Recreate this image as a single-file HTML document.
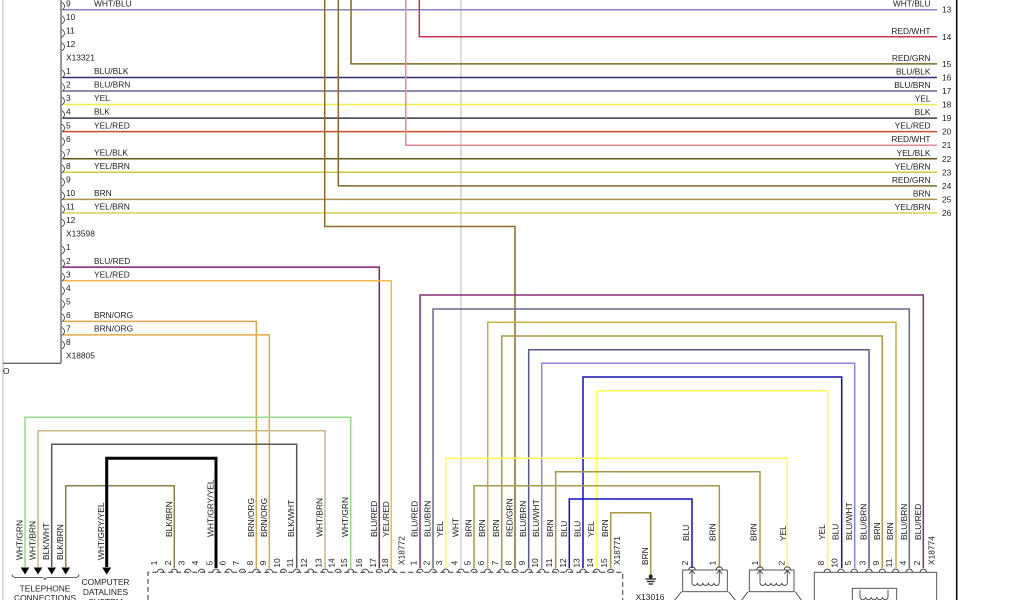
<!DOCTYPE html>
<html>
<head>
<meta charset="utf-8">
<style>
  html,body{margin:0;padding:0;background:#fff;}
  svg{display:block;}
  text{font-family:"Liberation Sans",sans-serif;font-size:8.4px;fill:#222;}
</style>
</head>
<body>
<svg width="1024" height="600" viewBox="0 0 1024 600" xmlns="http://www.w3.org/2000/svg" xmlns:xlink="http://www.w3.org/1999/xlink">
<defs>
  <path id="pa" d="M-3.2,0 a3.2,3.2 0 0 1 6.4,0" fill="none" stroke="#333" stroke-width="0.9"/>
  <path id="br" d="M0,-7.5 Q5,-3.5 0,0.5" fill="none" stroke="#333" stroke-width="0.8"/>
</defs>
<rect width="1024" height="600" fill="#fff"/>

<!-- frame lines -->
<line x1="3" y1="0" x2="3" y2="600" stroke="#b4b4b4" stroke-width="1"/>
<line x1="61" y1="0" x2="61" y2="363.3" stroke="#333" stroke-width="1"/>
<line x1="3" y1="363.3" x2="61" y2="363.3" stroke="#333" stroke-width="1"/>
<line x1="956.7" y1="0" x2="956.7" y2="600" stroke="#111" stroke-width="1.6"/>
<text x="3" y="374">O</text>

<!-- WHT vertical -->
<line x1="461" y1="0" x2="461" y2="568" stroke="#d2d2d2" stroke-width="1.5"/>

<g fill="none" stroke-width="1.5">
  <!-- top horizontal wires -->
  <path d="M63,9.7 H937" stroke="#8484c8"/>
  <path d="M63,77.45 H937" stroke="#303070"/>
  <path d="M63,91 H937" stroke="#686890"/>
  <path d="M63,104.55 H937" stroke="#f2ee48"/>
  <path d="M63,118.1 H937" stroke="#383848"/>
  <path d="M63,131.65 H937" stroke="#c85028"/>
  <path d="M63,158.75 H937" stroke="#605818"/>
  <path d="M63,172.3 H937" stroke="#d0c838"/>
  <path d="M63,199.4 H937" stroke="#a89450"/>
  <path d="M63,212.95 H937" stroke="#e0d048"/>
  <!-- verticals from top to right -->
  <path d="M419.3,0 V36.8 H937" stroke="#c83848"/>
  <path d="M351,0 V63.9 H937" stroke="#7a6a28"/>
  <path d="M405.7,0 V145.2 H937" stroke="#e88890"/>
  <path d="M338.3,0 V185.85 H937" stroke="#806830"/>
  <path d="M324.7,0 V226.5 H515 V568" stroke="#8a6a28"/>

  <!-- left lower block to bottom connector -->
  <path d="M63,267.15 H379.3 V568" stroke="#802070"/>
  <path d="M63,280.7 H391.3 V568" stroke="#f0b848"/>
  <path d="M63,321.35 H256.3 V568" stroke="#e0a848"/>
  <path d="M63,334.9 H269.3 V568" stroke="#e0a848"/>

  <!-- nested loops X18771 -> X18774 -->
  <path d="M420,568 V295 H923.3 V568" stroke="#803078"/>
  <path d="M433,568 V309 H909.3 V568" stroke="#686888"/>
  <path d="M487.7,568 V322.3 H896 V568" stroke="#c8b048"/>
  <path d="M501.7,568 V336 H882.3 V568" stroke="#a89848"/>
  <path d="M528.7,568 V349.7 H869 V568" stroke="#5a5a88"/>
  <path d="M541.7,568 V363.3 H854.7 V568" stroke="#8888d8"/>
  <path d="M583,568 V377 H841.7 V568" stroke="#1010b0"/>
  <path d="M596.7,568 V390.7 H827.7 V568" stroke="#ffff50"/>

  <!-- to sensors -->
  <path d="M445.7,568 V458.3 H787.3 V568" stroke="#ffff50"/>
  <path d="M555.7,568 V471.7 H760 V568" stroke="#a89848"/>
  <path d="M474,568 V485.7 H719.3 V568" stroke="#a89848"/>
  <path d="M569.3,568 V499 H692 V568" stroke="#1010c0"/>
  <path d="M610.7,568 V512.7 H650.7 V576" stroke="#a89848"/>

  <!-- telephone -->
  <path d="M350.7,568 V417.3 H25 V567" stroke="#98d888"/>
  <path d="M325,568 V430.7 H38 V567" stroke="#c8b888"/>
  <path d="M296.7,568 V444.3 H51.7 V567" stroke="#585858"/>
  <path d="M174.3,568 V485.7 H65.7 V567" stroke="#888050"/>
  <path d="M216,568 V458.3 H106.7 V567" stroke="#000" stroke-width="3"/>
</g>

<!-- arrows -->
<g fill="#000">
  <polygon points="20.7,567.5 29.3,567.5 25,574.5"/>
  <polygon points="33.7,567.5 42.3,567.5 38,574.5"/>
  <polygon points="47.4,567.5 56,567.5 51.7,574.5"/>
  <polygon points="61.4,567.5 70,567.5 65.7,574.5"/>
  <polygon points="102.2,567.5 111.2,567.5 106.7,574.5"/>
</g>
<path d="M12,574.5 Q12,577.5 16,577.5 L41,577.5 Q45,577.5 45,580 Q45,577.5 49,577.5 L75,577.5 Q79,577.5 79,574.5" fill="none" stroke="#333" stroke-width="0.8"/>
<text x="45" y="591.5" text-anchor="middle">TELEPHONE</text>
<text x="45" y="601" text-anchor="middle">CONNECTIONS</text>
<text x="105.5" y="585" text-anchor="middle">COMPUTER</text>
<text x="105.5" y="595" text-anchor="middle">DATALINES</text>
<text x="105.5" y="605" text-anchor="middle">SYSTEM</text>

<!-- left brackets -->
<g>
  <use xlink:href="#br" x="62" y="9.7"/><use xlink:href="#br" x="62" y="23.25"/>
  <use xlink:href="#br" x="62" y="36.8"/><use xlink:href="#br" x="62" y="50.35"/>
  <use xlink:href="#br" x="62" y="77.45"/><use xlink:href="#br" x="62" y="91"/>
  <use xlink:href="#br" x="62" y="104.55"/><use xlink:href="#br" x="62" y="118.1"/>
  <use xlink:href="#br" x="62" y="131.65"/><use xlink:href="#br" x="62" y="145.2"/>
  <use xlink:href="#br" x="62" y="158.75"/><use xlink:href="#br" x="62" y="172.3"/>
  <use xlink:href="#br" x="62" y="185.85"/><use xlink:href="#br" x="62" y="199.4"/>
  <use xlink:href="#br" x="62" y="212.95"/><use xlink:href="#br" x="62" y="226.5"/>
  <use xlink:href="#br" x="62" y="253.6"/><use xlink:href="#br" x="62" y="267.15"/>
  <use xlink:href="#br" x="62" y="280.7"/><use xlink:href="#br" x="62" y="294.25"/>
  <use xlink:href="#br" x="62" y="307.8"/><use xlink:href="#br" x="62" y="321.35"/>
  <use xlink:href="#br" x="62" y="334.9"/><use xlink:href="#br" x="62" y="348.45"/>
</g>

<!-- left labels -->
<g>
  <text x="66" y="6.3">9</text><text x="94" y="6.3">WHT/BLU</text>
  <text x="66" y="19.85">10</text>
  <text x="66" y="33.4">11</text>
  <text x="66" y="46.95">12</text>
  <text x="66" y="60.5">X13321</text>
  <text x="66" y="74.05">1</text><text x="94" y="74.05">BLU/BLK</text>
  <text x="66" y="87.6">2</text><text x="94" y="87.6">BLU/BRN</text>
  <text x="66" y="101.15">3</text><text x="94" y="101.15">YEL</text>
  <text x="66" y="114.7">4</text><text x="94" y="114.7">BLK</text>
  <text x="66" y="128.25">5</text><text x="94" y="128.25">YEL/RED</text>
  <text x="66" y="141.8">6</text>
  <text x="66" y="155.35">7</text><text x="94" y="155.35">YEL/BLK</text>
  <text x="66" y="168.9">8</text><text x="94" y="168.9">YEL/BRN</text>
  <text x="66" y="182.45">9</text>
  <text x="66" y="196">10</text><text x="94" y="196">BRN</text>
  <text x="66" y="209.55">11</text><text x="94" y="209.55">YEL/BRN</text>
  <text x="66" y="223.1">12</text>
  <text x="66" y="236.65">X13598</text>
  <text x="66" y="250.2">1</text>
  <text x="66" y="263.75">2</text><text x="94" y="263.75">BLU/RED</text>
  <text x="66" y="277.3">3</text><text x="94" y="277.3">YEL/RED</text>
  <text x="66" y="290.85">4</text>
  <text x="66" y="304.4">5</text>
  <text x="66" y="317.95">6</text><text x="94" y="317.95">BRN/ORG</text>
  <text x="66" y="331.5">7</text><text x="94" y="331.5">BRN/ORG</text>
  <text x="66" y="345.05">8</text>
  <text x="66" y="358.6">X18805</text>
</g>

<!-- right labels -->
<g text-anchor="end">
  <text x="930.5" y="6.7">WHT/BLU</text>
  <text x="930.5" y="33.8">RED/WHT</text>
  <text x="930.5" y="60.9">RED/GRN</text>
  <text x="930.5" y="74.45">BLU/BLK</text>
  <text x="930.5" y="88">BLU/BRN</text>
  <text x="930.5" y="101.55">YEL</text>
  <text x="930.5" y="115.1">BLK</text>
  <text x="930.5" y="128.65">YEL/RED</text>
  <text x="930.5" y="142.2">RED/WHT</text>
  <text x="930.5" y="155.75">YEL/BLK</text>
  <text x="930.5" y="169.3">YEL/BRN</text>
  <text x="930.5" y="182.85">RED/GRN</text>
  <text x="930.5" y="196.4">BRN</text>
  <text x="930.5" y="209.95">YEL/BRN</text>
</g>
<g>
  <text x="942" y="12.7">13</text>
  <text x="942" y="39.8">14</text>
  <text x="942" y="66.9">15</text>
  <text x="942" y="80.45">16</text>
  <text x="942" y="94">17</text>
  <text x="942" y="107.55">18</text>
  <text x="942" y="121.1">19</text>
  <text x="942" y="134.65">20</text>
  <text x="942" y="148.2">21</text>
  <text x="942" y="161.75">22</text>
  <text x="942" y="175.3">23</text>
  <text x="942" y="188.85">24</text>
  <text x="942" y="202.4">25</text>
  <text x="942" y="215.95">26</text>
</g>

<!-- dashed connector box -->
<path d="M148,600 V572.3 H622.7 V600" fill="none" stroke="#333" stroke-width="1" stroke-dasharray="5,3"/>

<!-- pin arcs X18772 -->
<g>
  <use xlink:href="#pa" x="160.5" y="572.3"/><use xlink:href="#pa" x="174.3" y="572.3"/>
  <use xlink:href="#pa" x="187.8" y="572.3"/><use xlink:href="#pa" x="201.5" y="572.3"/>
  <use xlink:href="#pa" x="216" y="572.3"/><use xlink:href="#pa" x="228.8" y="572.3"/>
  <use xlink:href="#pa" x="242.4" y="572.3"/><use xlink:href="#pa" x="256.3" y="572.3"/>
  <use xlink:href="#pa" x="269.3" y="572.3"/><use xlink:href="#pa" x="283.4" y="572.3"/>
  <use xlink:href="#pa" x="296.7" y="572.3"/><use xlink:href="#pa" x="310.7" y="572.3"/>
  <use xlink:href="#pa" x="325" y="572.3"/><use xlink:href="#pa" x="338" y="572.3"/>
  <use xlink:href="#pa" x="350.7" y="572.3"/><use xlink:href="#pa" x="365.3" y="572.3"/>
  <use xlink:href="#pa" x="379.3" y="572.3"/><use xlink:href="#pa" x="391.3" y="572.3"/>
</g>
<!-- pin arcs X18771 -->
<g>
  <use xlink:href="#pa" x="420" y="572.3"/><use xlink:href="#pa" x="433" y="572.3"/>
  <use xlink:href="#pa" x="445.7" y="572.3"/><use xlink:href="#pa" x="461" y="572.3"/>
  <use xlink:href="#pa" x="474" y="572.3"/><use xlink:href="#pa" x="487.7" y="572.3"/>
  <use xlink:href="#pa" x="501.7" y="572.3"/><use xlink:href="#pa" x="515" y="572.3"/>
  <use xlink:href="#pa" x="528.7" y="572.3"/><use xlink:href="#pa" x="541.7" y="572.3"/>
  <use xlink:href="#pa" x="555.7" y="572.3"/><use xlink:href="#pa" x="569.3" y="572.3"/>
  <use xlink:href="#pa" x="583" y="572.3"/><use xlink:href="#pa" x="596.7" y="572.3"/>
  <use xlink:href="#pa" x="610.7" y="572.3"/>
</g>

<!-- X18772 pin numbers -->
<g text-anchor="middle">
  <text transform="translate(157,563) rotate(-90)">1</text>
  <text transform="translate(170.8,563) rotate(-90)">2</text>
  <text transform="translate(184.3,563) rotate(-90)">3</text>
  <text transform="translate(198,563) rotate(-90)">4</text>
  <text transform="translate(212.5,563) rotate(-90)">5</text>
  <text transform="translate(225.3,563) rotate(-90)">6</text>
  <text transform="translate(238.9,563) rotate(-90)">7</text>
  <text transform="translate(252.8,563) rotate(-90)">8</text>
  <text transform="translate(265.8,563) rotate(-90)">9</text>
  <text transform="translate(279.9,563) rotate(-90)">10</text>
  <text transform="translate(293.2,563) rotate(-90)">11</text>
  <text transform="translate(307.2,563) rotate(-90)">12</text>
  <text transform="translate(321.5,563) rotate(-90)">13</text>
  <text transform="translate(334.5,563) rotate(-90)">14</text>
  <text transform="translate(347.2,563) rotate(-90)">15</text>
  <text transform="translate(361.8,563) rotate(-90)">16</text>
  <text transform="translate(375.8,563) rotate(-90)">17</text>
  <text transform="translate(387.8,563) rotate(-90)">18</text>
</g>
<!-- X18772 labels -->
<g>
  <text transform="translate(171.8,537) rotate(-90)">BLK/BRN</text>
  <text transform="translate(213.5,537) rotate(-90)">WHT/GRY/YEL</text>
  <text transform="translate(253.8,537) rotate(-90)">BRN/ORG</text>
  <text transform="translate(266.8,537) rotate(-90)">BRN/ORG</text>
  <text transform="translate(294.2,537) rotate(-90)">BLK/WHT</text>
  <text transform="translate(322.5,537) rotate(-90)">WHT/BRN</text>
  <text transform="translate(348.2,537) rotate(-90)">WHT/GRN</text>
  <text transform="translate(376.8,537) rotate(-90)">BLU/RED</text>
  <text transform="translate(388.8,537) rotate(-90)">YEL/RED</text>
  <text transform="translate(404.3,565) rotate(-90)">X18772</text>
</g>

<!-- X18771 pin numbers -->
<g text-anchor="middle">
  <text transform="translate(416.5,563) rotate(-90)">1</text>
  <text transform="translate(429.5,563) rotate(-90)">2</text>
  <text transform="translate(442.2,563) rotate(-90)">3</text>
  <text transform="translate(457.5,563) rotate(-90)">4</text>
  <text transform="translate(470.5,563) rotate(-90)">5</text>
  <text transform="translate(484.2,563) rotate(-90)">6</text>
  <text transform="translate(498.2,563) rotate(-90)">7</text>
  <text transform="translate(511.5,563) rotate(-90)">8</text>
  <text transform="translate(525.2,563) rotate(-90)">9</text>
  <text transform="translate(538.2,563) rotate(-90)">10</text>
  <text transform="translate(552.2,563) rotate(-90)">11</text>
  <text transform="translate(565.8,563) rotate(-90)">12</text>
  <text transform="translate(579.5,563) rotate(-90)">13</text>
  <text transform="translate(593.2,563) rotate(-90)">14</text>
  <text transform="translate(607.2,563) rotate(-90)">15</text>
</g>
<!-- X18771 labels -->
<g>
  <text transform="translate(417.5,537) rotate(-90)">BLU/RED</text>
  <text transform="translate(430.5,537) rotate(-90)">BLU/BRN</text>
  <text transform="translate(443.2,537) rotate(-90)">YEL</text>
  <text transform="translate(458.5,537) rotate(-90)">WHT</text>
  <text transform="translate(471.5,537) rotate(-90)">BRN</text>
  <text transform="translate(485.2,537) rotate(-90)">BRN</text>
  <text transform="translate(499.2,537) rotate(-90)">BRN</text>
  <text transform="translate(512.5,537) rotate(-90)">RED/GRN</text>
  <text transform="translate(526.2,537) rotate(-90)">BLU/BRN</text>
  <text transform="translate(539.2,537) rotate(-90)">BLU/WHT</text>
  <text transform="translate(553.2,537) rotate(-90)">BRN</text>
  <text transform="translate(566.8,537) rotate(-90)">BLU</text>
  <text transform="translate(580.5,537) rotate(-90)">BLU</text>
  <text transform="translate(594.2,537) rotate(-90)">YEL</text>
  <text transform="translate(608.2,537) rotate(-90)">BRN</text>
  <text transform="translate(620,565) rotate(-90)">X18771</text>
</g>

<!-- telephone labels -->
<g>
  <text transform="translate(22.5,560) rotate(-90)">WHT/GRN</text>
  <text transform="translate(35.5,560) rotate(-90)">WHT/BRN</text>
  <text transform="translate(49.2,560) rotate(-90)">BLK/WHT</text>
  <text transform="translate(63.2,560) rotate(-90)">BLK/BRN</text>
  <text transform="translate(104.2,560) rotate(-90)">WHT/GRY/YEL</text>
</g>

<!-- ground X13016 -->
<text transform="translate(648,565) rotate(-90)">BRN</text>
<circle cx="650.7" cy="576.5" r="2" fill="#222"/>
<g stroke="#222" stroke-width="1.3">
  <line x1="645.5" y1="579" x2="656" y2="579"/>
  <line x1="647" y1="581.5" x2="654.5" y2="581.5"/>
  <line x1="648.5" y1="584" x2="653" y2="584"/>
</g>
<text x="650" y="600" text-anchor="middle">X13016</text>

<!-- sensor 1 -->
<g fill="none" stroke="#444" stroke-width="0.9">
  <rect x="682.7" y="570" width="44.6" height="21.7"/>
  <path d="M681.5,591.7 L674,601 M728.5,591.7 L736,601"/>
  <path d="M692,571 V582.7 M719.3,571 V582.7"/>
  <path d="M692,582.7 a2.73,2.73 0 0 0 5.46,0 a2.73,2.73 0 0 0 5.46,0 a2.73,2.73 0 0 0 5.46,0 a2.73,2.73 0 0 0 5.46,0 a2.73,2.73 0 0 0 5.46,0"/>
  <path d="M689,574 L692,570.5 L695,574 M716.3,574 L719.3,570.5 L722.3,574"/>
  <!-- sensor 2 -->
  <rect x="749.3" y="570" width="44.7" height="21.7"/>
  <path d="M748,591.7 L741,601 M795.3,591.7 L802,601"/>
  <path d="M760,571 V582.7 M787.3,571 V582.7"/>
  <path d="M760,582.7 a2.73,2.73 0 0 0 5.46,0 a2.73,2.73 0 0 0 5.46,0 a2.73,2.73 0 0 0 5.46,0 a2.73,2.73 0 0 0 5.46,0 a2.73,2.73 0 0 0 5.46,0"/>
  <path d="M757,574 L760,570.5 L763,574 M784.3,574 L787.3,570.5 L790.3,574"/>
  <!-- X18774 -->
  <rect x="814.3" y="572.3" width="122.4" height="40"/>
  <rect x="852.3" y="588.3" width="44.4" height="20"/>
  <path d="M860,590 V597 M888,590 V597"/>
  <path d="M860,597 a2.8,2.8 0 0 0 5.6,0 a2.8,2.8 0 0 0 5.6,0 a2.8,2.8 0 0 0 5.6,0 a2.8,2.8 0 0 0 5.6,0 a2.8,2.8 0 0 0 5.6,0"/>
</g>
<g>
  <use xlink:href="#pa" x="692" y="570"/><use xlink:href="#pa" x="719.3" y="570"/>
  <use xlink:href="#pa" x="760" y="570"/><use xlink:href="#pa" x="787.3" y="570"/>
  <use xlink:href="#pa" x="827.3" y="572.3"/><use xlink:href="#pa" x="841" y="572.3"/>
  <use xlink:href="#pa" x="854.3" y="572.3"/><use xlink:href="#pa" x="869" y="572.3"/>
  <use xlink:href="#pa" x="882.3" y="572.3"/><use xlink:href="#pa" x="895.7" y="572.3"/>
  <use xlink:href="#pa" x="909.3" y="572.3"/><use xlink:href="#pa" x="923.3" y="572.3"/>
</g>
<g text-anchor="middle">
  <text transform="translate(688,563) rotate(-90)">2</text>
  <text transform="translate(715.7,563) rotate(-90)">1</text>
  <text transform="translate(758,563) rotate(-90)">1</text>
  <text transform="translate(784.7,563) rotate(-90)">2</text>
  <text transform="translate(823.8,563) rotate(-90)">8</text>
  <text transform="translate(837.5,563) rotate(-90)">10</text>
  <text transform="translate(850.8,563) rotate(-90)">5</text>
  <text transform="translate(865.5,563) rotate(-90)">3</text>
  <text transform="translate(878.8,563) rotate(-90)">9</text>
  <text transform="translate(892.2,563) rotate(-90)">11</text>
  <text transform="translate(905.8,563) rotate(-90)">4</text>
  <text transform="translate(919.8,563) rotate(-90)">2</text>
</g>
<g>
  <text transform="translate(689,541) rotate(-90)">BLU</text>
  <text transform="translate(715.7,541) rotate(-90)">BRN</text>
  <text transform="translate(756.7,541) rotate(-90)">BRN</text>
  <text transform="translate(786,541) rotate(-90)">YEL</text>
  <text transform="translate(824.8,540) rotate(-90)">YEL</text>
  <text transform="translate(838.5,540) rotate(-90)">BLU</text>
  <text transform="translate(851.8,540) rotate(-90)">BLU/WHT</text>
  <text transform="translate(866.5,540) rotate(-90)">BLU/BRN</text>
  <text transform="translate(879.8,540) rotate(-90)">BRN</text>
  <text transform="translate(893.2,540) rotate(-90)">BRN</text>
  <text transform="translate(906.8,540) rotate(-90)">BLU/BRN</text>
  <text transform="translate(920.8,540) rotate(-90)">BLU/RED</text>
  <text transform="translate(934.7,565) rotate(-90)">X18774</text>
</g>
</svg>
</body>
</html>
